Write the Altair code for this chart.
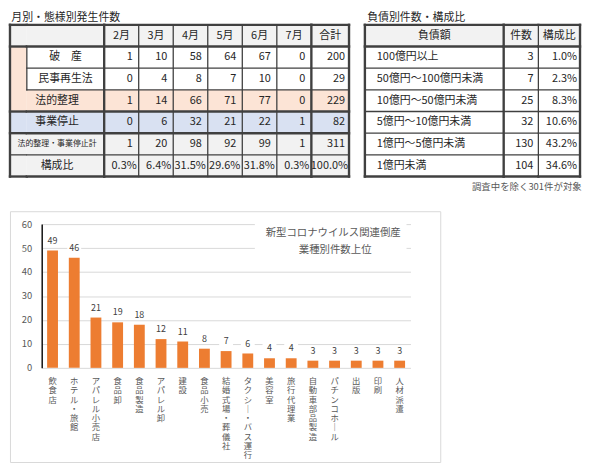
import altair as alt
import pandas as pd

FONT = "Noto Sans CJK JP"
INK = "#262626"
SUB = "#595959"
LINE = "#404040"
GRAY = "#f2f2f2"
PEACH = "#fce4d6"
BLUE = "#d9e1f2"
WHITE = "#ffffff"
ORANGE = "#ed7d31"
THICK = 2.4
THIN = 1.3

# ---------------- data ----------------
table1_title = "月別・態様別発生件数"
months = ["2月", "3月", "4月", "5月", "6月", "7月"]
total_header = "合計"
row_labels = ["破　産", "民事再生法", "法的整理", "事業停止", "法的整理・事業停止計", "構成比"]
bankrupt = [1, 10, 58, 64, 67, 0]
civil_rehab = [0, 4, 8, 7, 10, 0]
legal_total = [1, 14, 66, 71, 77, 0]
suspended = [0, 6, 32, 21, 22, 1]
grand = [1, 20, 98, 92, 99, 1]
share = ["0.3%", "6.4%", "31.5%", "29.6%", "31.8%", "0.3%"]
row_totals = [200, 29, 229, 82, 311]
share_total = "100.0%"

table2_title = "負債別件数・構成比"
debt_header = ["負債額", "件数", "構成比"]
debt_bands = ["100億円以上", "50億円～100億円未満", "10億円～50億円未満",
              "5億円～10億円未満", "1億円～5億円未満", "1億円未満"]
debt_counts = [3, 7, 25, 32, 130, 104]
debt_share = ["1.0%", "2.3%", "8.3%", "10.6%", "43.2%", "34.6%"]
table2_note = "調査中を除く301件が対象"

chart_title = ["新型コロナウイルス関連倒産", "業種別件数上位"]
industries = ["飲食店", "ホテル・旅館", "アパレル小売店", "食品卸", "食品製造", "アパレル卸",
              "建　設", "食品小売", "結婚式場・葬儀社", "タクシー・バス運行", "美容室",
              "旅行代理業", "自動車部品製造", "パチンコホール", "出　版", "印　刷", "人材派遣"]
industry_counts = [49, 46, 21, 19, 18, 12, 11, 8, 7, 6, 4, 4, 3, 3, 3, 3, 3]
y_ticks = [0, 10, 20, 30, 40, 50, 60]

left_fills = [GRAY, WHITE, WHITE, PEACH, BLUE, GRAY, GRAY]
right_fills = [GRAY, WHITE, WHITE, WHITE, WHITE, WHITE, WHITE]
TABLE_H = 153


def cell(c, r, fill, text="", align="center", dx=0, size=11, span=1):
    return dict(c=c, r=r, span=span, fill=fill, text=str(text), align=align, dx=dx, size=size)


def grid_chart(cells, ncols, width, hlines, vlines, nrows=7):
    xs = alt.Scale(domain=[0, ncols], nice=False, zero=False)
    ys = alt.Scale(domain=[0, nrows], nice=False, zero=False, reverse=True)
    df = pd.DataFrame(cells)
    rects = alt.Chart(df).transform_calculate(
        c1="datum.c + 1", r1="datum.r + datum.span"
    ).mark_rect(strokeWidth=0).encode(
        x=alt.X("c:Q", scale=xs, axis=None),
        x2="c1:Q",
        y=alt.Y("r:Q", scale=ys, axis=None),
        y2="r1:Q",
        fill=alt.Fill("fill:N", scale=None),
    )
    layers = [rects]
    txt = df[df.text != ""]
    for (align, dx, size), g in txt.groupby(["align", "dx", "size"]):
        off = {"center": 0.5, "right": 1.0, "left": 0.0}[align]
        layers.append(
            alt.Chart(g.reset_index(drop=True)).transform_calculate(
                tx=f"datum.c + {off}", ty="datum.r + datum.span / 2"
            ).mark_text(align=align, baseline="middle", dx=float(dx), fontSize=float(size), color=INK)
            .encode(
                x=alt.X("tx:Q", scale=xs, axis=None),
                y=alt.Y("ty:Q", scale=ys, axis=None),
                text="text:N",
            )
        )
    hl = pd.DataFrame(hlines, columns=["y", "x0", "x1", "w"])
    layers.append(
        alt.Chart(hl).mark_rule(color=LINE, strokeCap="square").encode(
            y=alt.Y("y:Q", scale=ys, axis=None),
            x=alt.X("x0:Q", scale=xs, axis=None),
            x2="x1:Q",
            strokeWidth=alt.StrokeWidth("w:Q", scale=None),
        )
    )
    vl = pd.DataFrame(vlines, columns=["x", "y0", "y1", "w"])
    layers.append(
        alt.Chart(vl).mark_rule(color=LINE, strokeCap="square").encode(
            x=alt.X("x:Q", scale=xs, axis=None),
            y=alt.Y("y0:Q", scale=ys, axis=None),
            y2="y1:Q",
            strokeWidth=alt.StrokeWidth("w:Q", scale=None),
        )
    )
    return alt.layer(*layers).properties(width=width, height=TABLE_H)


# ---------------- left table ----------------
hw = [THICK, THICK, THIN, THIN, THICK, THICK, THIN, THICK]

strip_cells = [cell(0, 0, GRAY), cell(0, 1, PEACH, span=3), cell(0, 4, BLUE),
               cell(0, 5, GRAY), cell(0, 6, GRAY)]
strip = grid_chart(strip_cells, 1, 17,
                   hlines=[(y, 0, 1, hw[y]) for y in (0, 1, 4, 5, 6, 7)],
                   vlines=[(0, 0, 7, THICK)])

name_cells = [cell(0, 0, GRAY)]
for i, lab in enumerate(row_labels):
    r = i + 1
    nested = r in (1, 2)
    name_cells.append(cell(0, r, left_fills[r], lab, "center",
                           0 if nested else -8.5, 8 if len(lab) > 6 else 11))
names = grid_chart(name_cells, 1, 78,
                   hlines=[(y, 0, 1, hw[y]) for y in range(8)],
                   vlines=[(0, 1, 3, THIN)])

rows_vals = [bankrupt, civil_rehab, legal_total, suspended, grand]
month_cells = []
for j, m in enumerate(months):
    month_cells.append(cell(j, 0, GRAY, m))
    for i, vals in enumerate(rows_vals):
        month_cells.append(cell(j, i + 1, left_fills[i + 1], vals[j], "right", -6))
    month_cells.append(cell(j, 6, left_fills[6], share[j], "right", -2))
month_chart = grid_chart(month_cells, 6, 209,
                         hlines=[(y, 0, 6, hw[y]) for y in range(8)],
                         vlines=[(0, 0, 7, THICK)] + [(x, 0, 7, THIN) for x in range(1, 6)])

total_cells = [cell(0, 0, GRAY, total_header)]
for i, v in enumerate(row_totals):
    total_cells.append(cell(0, i + 1, left_fills[i + 1], v, "right", -4))
total_cells.append(cell(0, 6, left_fills[6], share_total, "right", -1))
total_chart = grid_chart(total_cells, 1, 38,
                         hlines=[(y, 0, 1, hw[y]) for y in range(8)],
                         vlines=[(0, 0, 7, THICK), (1, 0, 7, THICK)])

left_table = alt.hconcat(strip, names, month_chart, total_chart, spacing=0, bounds="flush").properties(
    title=alt.TitleParams(table1_title, anchor="start", fontSize=11, fontWeight="normal",
                          color=INK, offset=0, dx=3, font=FONT)
)

# ---------------- right table ----------------
hw2 = [THICK, THICK, THIN, THIN, THIN, THIN, THIN, THICK]
band_cells = [cell(0, 0, GRAY, debt_header[0])]
count_cells = [cell(0, 0, GRAY, debt_header[1])]
dshare_cells = [cell(0, 0, GRAY, debt_header[2])]
for i in range(len(debt_bands)):
    band_cells.append(cell(0, i + 1, right_fills[i + 1], debt_bands[i], "left", 12))
    count_cells.append(cell(0, i + 1, right_fills[i + 1], debt_counts[i], "right", -5))
    dshare_cells.append(cell(0, i + 1, right_fills[i + 1], debt_share[i], "right", -3))

band_chart = grid_chart(band_cells, 1, 140, hlines=[(y, 0, 1, hw2[y]) for y in range(8)],
                        vlines=[(0, 0, 7, THICK)])
count_chart = grid_chart(count_cells, 1, 35, hlines=[(y, 0, 1, hw2[y]) for y in range(8)],
                         vlines=[(0, 0, 7, THICK)])
dshare_chart = grid_chart(dshare_cells, 1, 42, hlines=[(y, 0, 1, hw2[y]) for y in range(8)],
                          vlines=[(0, 0, 7, THIN), (1, 0, 7, THICK)])

right_inner = alt.hconcat(band_chart, count_chart, dshare_chart, spacing=0, bounds="flush").properties(
    title=alt.TitleParams(table2_title, anchor="start", fontSize=11, fontWeight="normal",
                          color=INK, offset=0, dx=4, font=FONT)
)
right_table = alt.vconcat(right_inner, spacing=0).properties(
    title=alt.TitleParams(table2_note, orient="bottom", anchor="end", fontSize=9.5,
                          fontWeight="normal", color=SUB, offset=4, font=FONT)
)

# ---------------- bar chart (view = outer frame) ----------------
FRAME_W, FRAME_H = 434, 253
bar_df = pd.DataFrame({"industry": industries, "count": industry_counts})
one = pd.DataFrame({"k": [0]})

xenc = alt.X("industry:N", sort=industries,
             scale=alt.Scale(domain=industries, range=[32, 404], paddingInner=0.5, paddingOuter=0.25),
             axis=alt.Axis(title=None, domain=False, ticks=False, tickSize=0, labelAngle=0, offset=-95,
                           labelExpr="split(replace(datum.label, 'ー', '｜'), '')",
                           labelBaseline="top", labelAlign="center", labelLineHeight=9.3,
                           labelFontSize=8.4, labelColor=SUB, labelPadding=9, labelOverlap=False))
yenc = alt.Y("count:Q", scale=alt.Scale(domain=[0, 60], range=[158, 13], nice=False),
             axis=alt.Axis(title=None, values=y_ticks, grid=True, offset=-32,
                           gridColor="#d9d9d9", gridWidth=1, domain=True, domainColor="#111111",
                           domainWidth=1.5, ticks=False, tickSize=0, labelPadding=10,
                           labelFontSize=9.5, labelColor=SUB))

title_box = alt.Chart(one).mark_rect(fill=WHITE).encode(
    x=alt.value(247), x2=alt.value(400), y=alt.value(5), y2=alt.value(53))
bars = alt.Chart(bar_df).mark_bar(color=ORANGE).encode(x=xenc, y=yenc)
label_bg = alt.Chart(bar_df).mark_point(
    shape="M-1,-0.65L1,-0.65L1,0.65L-1,0.65Z", filled=True, color=WHITE, opacity=1,
    size=196, yOffset=-10, strokeWidth=0).encode(x=xenc, y=yenc)
labels = alt.Chart(bar_df).mark_text(dy=-10, fontSize=9, color="#404040", baseline="middle").encode(
    x=xenc, y=yenc, text="count:Q")
t1 = alt.Chart(one).mark_text(fontSize=10.5, color=SUB, align="center", baseline="middle").encode(
    x=alt.value(326), y=alt.value(22), text=alt.value(chart_title[0]))
t2 = alt.Chart(one).mark_text(fontSize=10.5, color=SUB, align="center", baseline="middle").encode(
    x=alt.value(328), y=alt.value(39), text=alt.value(chart_title[1]))

bar_chart = alt.layer(bars, title_box, label_bg, labels, t1, t2).properties(
    width=FRAME_W, height=FRAME_H,
    view=alt.ViewBackground(stroke="#d9d9d9", strokeWidth=1, fill=WHITE),
)

top_row = alt.hconcat(left_table, right_table, spacing=12)

chart = alt.vconcat(
    top_row,
    bar_chart,
    spacing=18,
).properties(
    padding={"top": 2, "left": 0, "right": 0, "bottom": 0}
).configure(font=FONT).configure_view(strokeWidth=0)

chart.save("out.html", embed_options={"renderer": "svg", "actions": False})
